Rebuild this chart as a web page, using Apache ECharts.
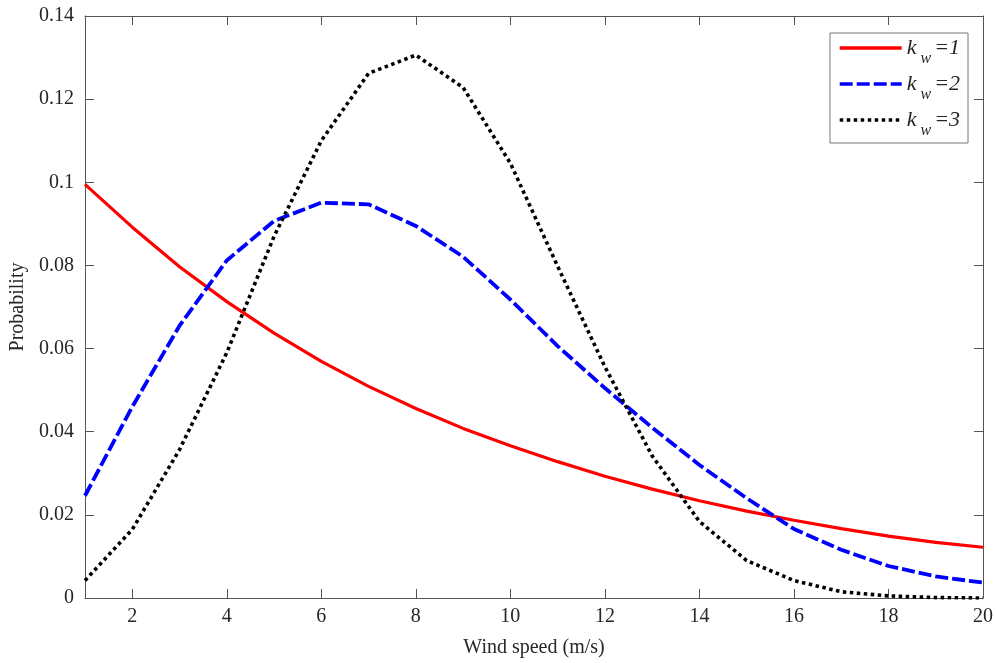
<!DOCTYPE html>
<html>
<head>
<meta charset="utf-8">
<script src="https://cdn.jsdelivr.net/npm/echarts@6/dist/echarts.min.js"></script>
<style>
html,body{margin:0;padding:0;background:#fff;}
#chart{width:996px;height:663px;}
</style>
</head>
<body>
<div id="chart"></div>
<script>
var windSpeed = [1,2,3,4,5,6,7,8,9,10,11,12,13,14,15,16,17,18,19,20];
var probK1 = [0.0995,0.0892,0.0797,0.0713,0.0637,0.0569,0.0509,0.0456,0.0408,0.0366,0.0328,0.0293,0.0262,0.0234,0.0209,0.0187,0.0167,0.0149,0.0134,0.0122];
var probK2 = [0.0246,0.0460,0.0655,0.0812,0.0907,0.0951,0.0947,0.0895,0.0821,0.0718,0.0606,0.0505,0.0410,0.0320,0.0240,0.0166,0.0116,0.0077,0.0052,0.0037];
var probK3 = [0.0042,0.0165,0.0357,0.0590,0.0870,0.1100,0.1262,0.1306,0.1228,0.1046,0.0798,0.0556,0.0342,0.0184,0.0090,0.0042,0.0015,0.0005,0.0001,0.0000];
var xTicks = [2,4,6,8,10,12,14,16,18,20];
var seriesNames = ['k1','k2','k3'];
var legendSuffix = ['=1','=2','=3'];

function pairs(vals){ return windSpeed.map(function(x,i){ return [x, vals[i]]; }); }

var font = 'Liberation Serif';
var axisColor = '#555';
var labelColor = '#262626';

var chart = echarts.init(document.getElementById('chart'), null, {renderer:'canvas'});
var option = {
  backgroundColor: '#fff',
  animation: false,
  grid: {left: 84, right: 11, top: 16, bottom: 65, containLabel: false},
  legend: {
    right: 28, top: 33,
    orient: 'vertical',
    backgroundColor: '#fff',
    borderColor: '#777',
    borderWidth: 1,
    borderRadius: 0,
    padding: [4, 8, 4, 8],
    itemWidth: 62,
    itemHeight: 3,
    itemGap: 6,
    itemStyle: {color: 'rgba(0,0,0,0)', borderWidth: 0},
    lineStyle: {width: 3.5},
    data: seriesNames,
    formatter: function(name){
      var i = seriesNames.indexOf(name);
      return '{k|k}{w|w}{e|' + legendSuffix[i] + '}';
    },
    textStyle: {
      fontFamily: font,
      fontStyle: 'italic',
      fontSize: 22,
      color: labelColor,
      rich: {
        k: {fontFamily: font, fontStyle: 'italic', fontSize: 22, color: labelColor, verticalAlign: 'middle'},
        w: {fontFamily: font, fontStyle: 'italic', fontSize: 16, color: labelColor, padding: [22,3,0,4], verticalAlign: 'middle'},
        e: {fontFamily: font, fontStyle: 'italic', fontSize: 22, color: labelColor, verticalAlign: 'middle'}
      }
    }
  },
  xAxis: [{
    type: 'value', min: 1, max: 20,
    name: 'Wind speed (m/s)', nameLocation: 'middle', nameGap: 40,
    nameTextStyle: {fontFamily: font, fontSize: 20, color: labelColor},
    axisLine: {show: true, onZero: false, lineStyle: {color: axisColor, width: 1}},
    axisTick: {show: true, inside: true, length: 9, customValues: xTicks, lineStyle: {color: axisColor}},
    axisLabel: {customValues: xTicks, fontFamily: font, fontSize: 20, color: labelColor, margin: 9},
    splitLine: {show: false}
  },{
    type: 'value', min: 1, max: 20, position: 'top',
    axisLine: {show: true, onZero: false, lineStyle: {color: axisColor, width: 1}},
    axisTick: {show: true, inside: true, length: 9, customValues: xTicks, lineStyle: {color: axisColor}},
    axisLabel: {show: false},
    splitLine: {show: false}
  }],
  yAxis: [{
    type: 'value', min: 0, max: 0.14, interval: 0.02,
    name: 'Probability', nameLocation: 'middle', nameGap: 57,
    nameTextStyle: {fontFamily: font, fontSize: 20, color: labelColor},
    axisLine: {show: true, onZero: false, lineStyle: {color: axisColor, width: 1}},
    axisTick: {show: true, inside: true, length: 9, lineStyle: {color: axisColor}},
    axisLabel: {fontFamily: font, fontSize: 20, color: labelColor, margin: 11,
      formatter: function(v){ return String(parseFloat(v.toFixed(2))); }},
    splitLine: {show: false}
  },{
    type: 'value', min: 0, max: 0.14, interval: 0.02, position: 'right',
    axisLine: {show: true, onZero: false, lineStyle: {color: axisColor, width: 1}},
    axisTick: {show: true, inside: true, length: 9, lineStyle: {color: axisColor}},
    axisLabel: {show: false},
    splitLine: {show: false}
  }],
  series: [{
    name: 'k1', type: 'line', data: pairs(probK1), showSymbol: false, symbol: 'none',
    lineStyle: {color: '#ff0000', width: 3.2, type: 'solid'},
    itemStyle: {color: '#ff0000'}
  },{
    name: 'k2', type: 'line', data: pairs(probK2), showSymbol: false, symbol: 'none',
    lineStyle: {color: '#0000ff', width: 3.8, type: [13,4]},
    itemStyle: {color: '#0000ff'}
  },{
    name: 'k3', type: 'line', data: pairs(probK3), showSymbol: false, symbol: 'none',
    lineStyle: {color: '#000000', width: 3.6, type: [3.5,3.5], cap: 'butt'},
    itemStyle: {color: '#000000'}
  }]
};
chart.setOption(option);
</script>
</body>
</html>
